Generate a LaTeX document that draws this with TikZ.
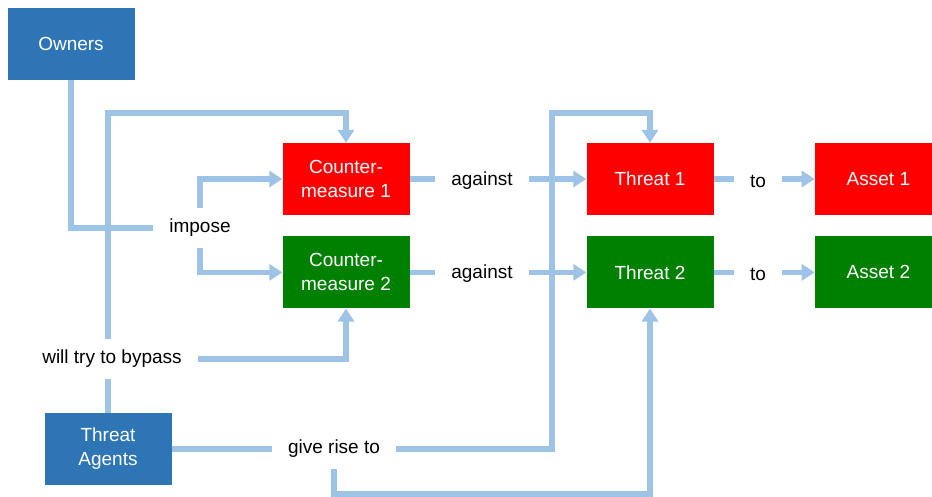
\documentclass[tikz,border=0pt]{standalone}
\usepackage{fontspec}
\setmainfont{Liberation Sans}
\usetikzlibrary{arrows.meta, positioning}
\definecolor{ownblue}{RGB}{46,117,182}
\definecolor{boxred}{RGB}{255,0,0}
\definecolor{boxgreen}{RGB}{0,128,0}
\definecolor{linkblue}{RGB}{157,195,230}

\begin{document}
\begin{tikzpicture}[
        x=1pt, y=1pt,
        box/.style={rectangle, minimum width=127pt, minimum height=72pt,
                    inner sep=0pt, align=center, text=white,
                    font=\fontsize{19}{24}\selectfont},
        actor/.style={box, fill=ownblue},
        redbox/.style={box, fill=boxred},
        greenbox/.style={box, fill=boxgreen},
        lbl/.style={inner xsep=16pt, inner ysep=11pt,
                    font=\fontsize{19}{24}\selectfont},
        link/.style={draw=linkblue, line width=5.5pt},
        arr/.style={link, -{Triangle[width=16pt, length=13pt]}}
      ]
        \useasboundingbox (0,0) rectangle (932,497);
        % boxes
        \node[actor]    (owners) at (71,453)  {Owners};
        \node[actor]    (agents) at (108,48)  {Threat\\Agents};
        \node[redbox]   (cm1)    at (346,318) {Counter-\\measure 1};
        \node[greenbox, below=21pt of cm1] (cm2) {Counter-\\measure 2};
        \node[redbox]   (t1)     at (650,318) {Threat 1};
        \node[greenbox, below=21pt of t1]  (t2) {Threat 2};
        \node[redbox,   right=101pt of t1] (a1) {Asset 1};
        \node[greenbox, below=21pt of a1]  (a2) {Asset 2};
        % labels
        \node[lbl] (impose) at (200,269) {impose};
        \node[lbl] (bypass) at (112,138) {will try to bypass};
        \node[lbl] (rise)   at (334,48)  {give rise to};
        \node[lbl] (ag1)    at (482,316) {against};
        \node[lbl] (ag2)    at (482,223) {against};
        \node[lbl] (to1)    at (758,316) {to};
        \node[lbl] (to2)    at (758,223) {to};
        \coordinate (topline) at (0,384);
        \coordinate (riseturn) at (552,384);
        \coordinate (bottomline) at (0,3);
        % owners impose
        \draw[link] (owners.south) |- (impose.west);
        \draw[arr]  (impose.north) |- (cm1.west);
        \draw[arr]  (impose.south) |- (cm2.west);
        % threat agents
        \draw[link] (agents.north) -- (bypass.south -| agents);
        \draw[arr]  (bypass.north -| agents) |- (topline -| cm1) -- (cm1.north);
        \draw[arr]  (bypass.east) -| (cm2.south);
        \draw[link] (agents.east) -- (agents.east -| rise.west);
        \draw[arr]  (rise.east |- agents) -| (riseturn) -| (t1.north);
        \draw[arr]  (rise.south) |- (bottomline -| t2) -- (t2.south);
        % against, to
        \draw[link] (cm1.east) -- (cm1.east -| ag1.west);
        \draw[arr]  (ag1.east |- t1) -- (t1.west);
        \draw[link] (cm2.east) -- (cm2.east -| ag2.west);
        \draw[arr]  (ag2.east |- t2) -- (t2.west);
        \draw[link] (t1.east) -- (t1.east -| to1.west);
        \draw[arr]  (to1.east |- a1) -- (a1.west);
        \draw[link] (t2.east) -- (t2.east -| to2.west);
        \draw[arr]  (to2.east |- a2) -- (a2.west);
      \end{tikzpicture}
\end{document}
